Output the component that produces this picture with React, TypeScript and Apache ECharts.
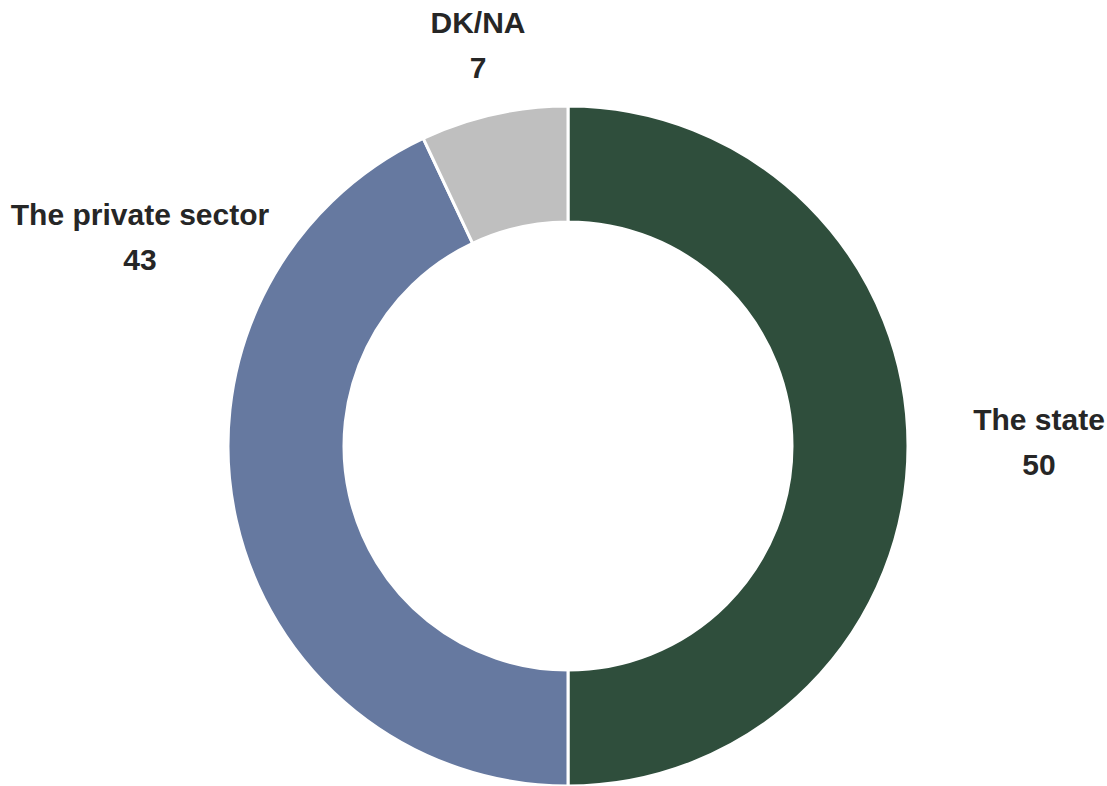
import React, { useEffect, useRef } from "react";
import * as echarts from "echarts";

const categories = ["The state", "The private sector", "DK/NA"];
const values = [50, 43, 7];
const colors = ["#2F4E3C", "#6679A0", "#BFBFBF"];
// label anchor centres (px) for each slice's label block
const labelPos = [
  [1039, 442],
  [140, 237],
  [478, 45],
];

export default function App() {
  const ref = useRef<HTMLDivElement>(null);
  useEffect(() => {
    if (!ref.current) return;
    const chart = echarts.init(ref.current, null, { renderer: "svg" });
    chart.setOption({
      animation: false,
      backgroundColor: "#ffffff",
      series: [
        {
          type: "pie",
          center: [568, 446],
          radius: [224, 340],
          startAngle: 90,
          clockwise: true,
          avoidLabelOverlap: false,
          itemStyle: { borderColor: "#ffffff", borderWidth: 3 },
          label: {
            show: true,
            position: "outside",
            formatter: "{b}\n{c}",
            fontFamily: "'Liberation Sans Narrow', 'Arial Narrow', 'Liberation Sans', Arial, sans-serif",
            fontWeight: "bold",
            fontSize: 30,
            lineHeight: 45,
            color: "#262626",
            align: "center",
          },
          labelLine: { show: false },
          labelLayout: (params: any) => {
            const p = labelPos[params.dataIndex];
            return { x: p[0], y: p[1], align: "center", verticalAlign: "middle" };
          },
          emphasis: { disabled: true },
          data: categories.map((c, i) => ({
            name: c,
            value: values[i],
            itemStyle: { color: colors[i] },
          })),
        },
      ],
    });
    return () => chart.dispose();
  }, []);
  return (
    <div
      ref={ref}
      style={{ position: "fixed", left: 0, top: 0, width: 1107, height: 786 }}
    />
  );
}
